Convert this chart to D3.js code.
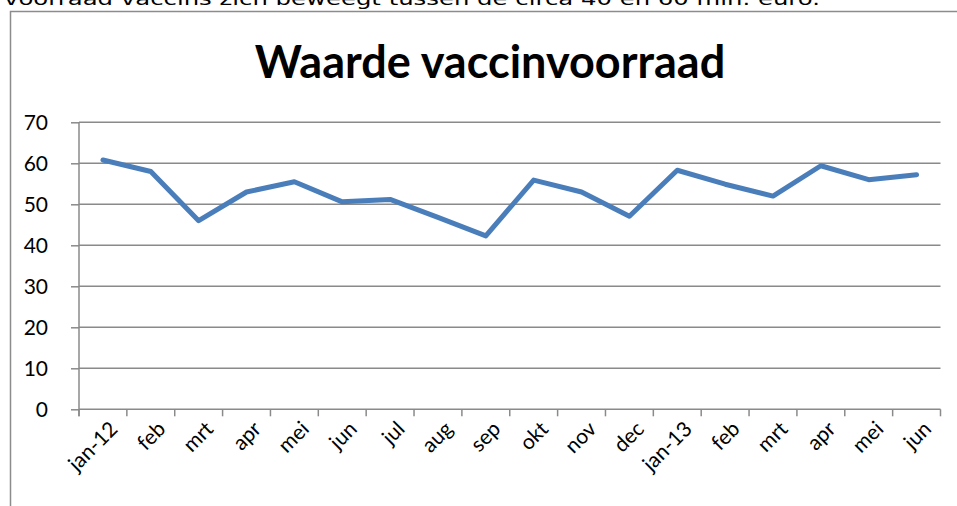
<!DOCTYPE html>
<html>
<head>
<meta charset="utf-8">
<script src="https://cdn.jsdelivr.net/npm/d3@7"></script>
<style>
  body { margin: 0; background: #fff; }
  svg { display: block; }
  text { font-family: Lato, "Open Sans", sans-serif; fill: #000; }
</style>
</head>
<body>
<script>
// chart data
const months = ["jan-12", "feb", "mrt", "apr", "mei", "jun", "jul", "aug", "sep",
                "okt", "nov", "dec", "jan-13", "feb", "mrt", "apr", "mei", "jun"];
const values = [60.8, 58.0, 46.0, 53.0, 55.5, 50.6, 51.2, 46.8, 42.3,
                55.9, 53.0, 47.1, 58.3, 54.9, 52.0, 59.4, 56.0, 57.2];
const yTicks = [0, 10, 20, 30, 40, 50, 60, 70];
const title = "Waarde vaccinvoorraad";
const aboveText = "voorraad vaccins zich beweegt tussen de circa 40 en 60 mln. euro.";

const W = 957, H = 506;
const plotLeft = 79, plotRight = 940.5, plotTop = 122.3, plotBottom = 409.3;

let svg = d3.select("body").append("svg")
    .attr("width", W)
    .attr("height", H);

// sentence of the page text, cut off at the top
svg.append("text")
    .attr("x", 4)
    .attr("y", 4.5)
    .attr("textLength", 816)
    .attr("lengthAdjust", "spacingAndGlyphs")
    .style("font-family", "'DejaVu Sans', sans-serif")
    .style("font-size", "18px")
    .text(aboveText);

// chart frame (runs past right and bottom edge)
svg.append("rect")
    .attr("x", 10.5)
    .attr("y", 11.5)
    .attr("width", 1000)
    .attr("height", 600)
    .attr("fill", "none")
    .attr("stroke", "#8c8c8c")
    .attr("stroke-width", 1.5);

svg.append("text")
    .attr("x", 490)
    .attr("y", 78)
    .attr("text-anchor", "middle")
    .style("font-size", "45px")
    .style("font-weight", "bold")
    .text(title);

let x = d3.scaleBand()
    .domain(months.map((d, i) => i))
    .range([plotLeft, plotRight]);

let y = d3.scaleLinear()
    .domain([0, 70])
    .range([plotBottom, plotTop]);

// gridlines
svg.append("g")
    .selectAll("line")
    .data(yTicks.filter(d => d > 0))
    .enter()
    .append("line")
    .attr("x1", plotLeft)
    .attr("x2", plotRight)
    .attr("y1", d => y(d))
    .attr("y2", d => y(d))
    .attr("stroke", "#8a8a8a")
    .attr("stroke-width", 1.5);

// y axis
let yAxis = svg.append("g")
    .attr("transform", `translate(${plotLeft},0)`)
    .call(d3.axisLeft(y).tickValues(yTicks).tickSize(8).tickPadding(23));
yAxis.select(".domain").attr("stroke", "#8a8a8a").attr("stroke-width", 1.5)
    .attr("d", `M0,${plotTop}V${plotBottom + 7}`);
yAxis.selectAll(".tick line").attr("stroke", "#8a8a8a").attr("stroke-width", 1.5);
yAxis.selectAll(".tick text")
    .style("font-size", "21px")
    .style("font-family", "Lato, sans-serif")
    .attr("fill", "#000")
    .attr("dy", "0.35em");

// x axis: ticks at category boundaries
let bounds = months.map((d, i) => x(i)).concat([plotRight]);
let xg = svg.append("g");
xg.append("line")
    .attr("x1", plotLeft).attr("x2", plotRight)
    .attr("y1", plotBottom).attr("y2", plotBottom)
    .attr("stroke", "#8a8a8a").attr("stroke-width", 1.5);
xg.selectAll(".xtick")
    .data(bounds)
    .enter()
    .append("line")
    .attr("x1", d => d).attr("x2", d => d)
    .attr("y1", plotBottom).attr("y2", plotBottom + 7)
    .attr("stroke", "#8a8a8a").attr("stroke-width", 1.5);

xg.selectAll(".label")
    .data(months)
    .enter()
    .append("text")
    .attr("text-anchor", "end")
    .style("font-size", "21px")
    .attr("transform", (d, i) => `translate(${x(i) + x.bandwidth() / 2 + 16},${plotBottom + 21}) rotate(-45)`)
    .text(d => d);

// the line
let line = d3.line()
    .x((d, i) => x(i) + x.bandwidth() / 2)
    .y(d => y(d));

svg.append("path")
    .datum(values)
    .attr("d", line)
    .attr("fill", "none")
    .attr("stroke", "#4a7ebb")
    .attr("stroke-width", 5)
    .attr("stroke-linejoin", "round")
    .attr("stroke-linecap", "round");
</script>
</body>
</html>
